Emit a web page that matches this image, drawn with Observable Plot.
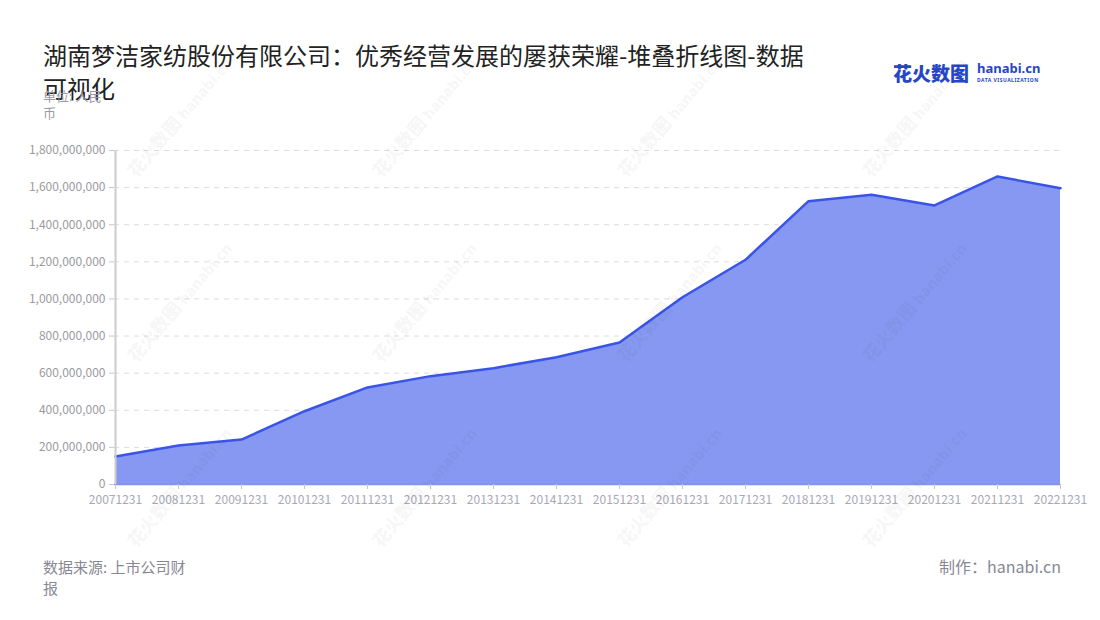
<!DOCTYPE html>
<html>
<head>
<meta charset="utf-8">
<script src="https://cdn.jsdelivr.net/npm/d3@7"></script>
<script src="https://cdn.jsdelivr.net/npm/@observablehq/plot@0.6"></script>
<style>
  html, body { margin: 0; padding: 0; background: #fff; }
  body { width: 1100px; height: 620px; position: relative; overflow: hidden;
         font-family: "Noto Sans CJK SC", "Noto Sans", sans-serif; }
  #chart { position: absolute; left: 0; top: 0; }
  .abs { position: absolute; white-space: nowrap; }
  #title { left: 43px; top: 38px; font-size: 24px; line-height: 33px; color: #222; z-index: 2; }
  #unit { left: 43px; top: 87px; font-size: 13px; line-height: 17px; color: #9a9aa8; z-index: 3; }
  #source { left: 43px; top: 556px; font-size: 15px; line-height: 21px; color: #888894; }
  #maker { right: 39px; top: 556px; font-size: 16px; line-height: 21px; color: #888894; }
  #logo { left: 893px; top: 60px; width: 150px; height: 26px; }
  #logo .cn { position: absolute; left: 0; top: 0; font-size: 19px; line-height: 26px; font-weight: 900; color: #2646c6; }
  #logo .en { position: absolute; left: 84px; top: 1px; font-size: 13px; line-height: 15px; font-weight: 700; color: #2646c6; font-family: "Noto Sans", sans-serif; }
  #logo .sub { position: absolute; left: 84px; top: 17px; font-size: 5px; line-height: 6px; font-weight: 700; color: #2646c6; letter-spacing: 0.5px; font-family: "Noto Sans", sans-serif; }
  .wm { position: absolute; white-space: nowrap; color: rgba(0,0,0,0.055); font-size: 18px; font-weight: 900;
        transform-origin: 0 100%; transform: rotate(-50deg); pointer-events: none; z-index: 5; }
  .wm small { font-size: 15px; font-family: "Noto Sans", sans-serif; font-weight: 800; margin-left: 4px; }
</style>
</head>
<body>
<div id="chart"></div>
<div id="title" class="abs">湖南梦洁家纺股份有限公司：优秀经营发展的屡获荣耀-堆叠折线图-数据<br>可视化</div>
<div id="unit" class="abs">单位: 人民<br>币</div>
<div id="source" class="abs">数据来源: 上市公司财<br>报</div>
<div id="maker" class="abs">制作：hanabi.cn</div>
<div id="logo" class="abs"><span class="cn">花火数图</span><span class="en">hanabi.cn</span><span class="sub">DATA VISUALIZATION</span></div>
<div id="wms"></div>
<script>
// ---- data ----
const dates = ["20071231","20081231","20091231","20101231","20111231","20121231","20131231","20141231",
               "20151231","20161231","20171231","20181231","20191231","20201231","20211231","20221231"];
const values = [151e6, 210e6, 242e6, 395e6, 523e6, 584e6, 627e6, 686e6,
                765e6, 1009e6, 1211e6, 1527e6, 1561e6, 1504e6, 1660e6, 1597e6];
const yTicks = [0, 2e8, 4e8, 6e8, 8e8, 1e9, 1.2e9, 1.4e9, 1.6e9, 1.8e9];

const data = dates.map((d, i) => ({date: d, value: values[i]}));

const chart = Plot.plot({
  width: 1100,
  height: 520,
  marginLeft: 114,
  marginRight: 40,
  marginTop: 150,
  marginBottom: 36,
  style: {fontFamily: '"Noto Sans CJK SC", "Noto Sans", sans-serif', fontSize: "12px", background: "transparent"},
  x: {type: "point", domain: dates, padding: 0},
  y: {domain: [0, 1.8e9]},
  marks: [
    Plot.ruleY(yTicks.slice(1), {stroke: "#dcdcdc", strokeDasharray: "5,5", strokeWidth: 1}),
    Plot.areaY(data, {x: "date", y: "value", fill: "#8798f2"}),
    Plot.lineY(data, {x: "date", y: "value", stroke: "#3a54e8", strokeWidth: 2.5}),
    Plot.ruleY([0], {stroke: "#7f93ee", strokeWidth: 1.5}),
    Plot.ruleX([dates[0]], {y1: 0, y2: 1.8e9, stroke: "#cccccc", strokeWidth: 2}),
    Plot.axisY({ticks: yTicks, tickFormat: d3.format(","), tickSize: 5, tickPadding: 4,
                stroke: "#c8c8c8", fill: "#9a9aa0", label: null}),
    Plot.axisX({tickSize: 5, tickPadding: 6, stroke: "#c8c8c8", fill: "#a8a8b4", label: null})
  ]
});
document.getElementById("chart").appendChild(chart);

// faint watermarks
const wmHost = document.getElementById("wms");
const cols = [140, 385, 630, 875];
const rows = [180, 365, 550];
for (const y of rows) for (const x of cols) {
  const s = document.createElement("div");
  s.className = "wm";
  s.style.left = x + "px";
  s.style.top = (y - 24) + "px";
  s.innerHTML = "花火数图<small>hanabi.cn</small>";
  wmHost.appendChild(s);
}
</script>
</body>
</html>
